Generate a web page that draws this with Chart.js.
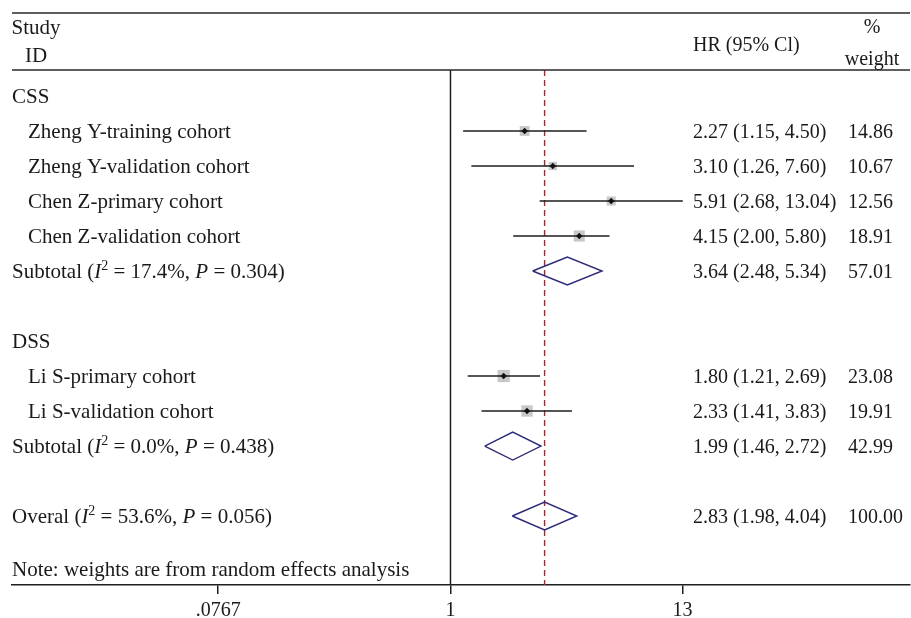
<!DOCTYPE html>
<html>
<head>
<meta charset="utf-8">
<script src="https://cdn.jsdelivr.net/npm/chart.js@4.4.0/dist/chart.umd.min.js"></script>
<style>
  html, body { margin: 0; padding: 0; background: #fff; }
  canvas { display: block; }
</style>
</head>
<body>
<canvas id="forest" width="911" height="618"></canvas>
<script>
// rows: 0 = first line under the header, one unit per text line
var groupNames = ['CSS', 'DSS'];
var groupRows = [0, 7];

var studies = ['Zheng Y-training cohort', 'Zheng Y-validation cohort', 'Chen Z-primary cohort',
  'Chen Z-validation cohort', 'Li S-primary cohort', 'Li S-validation cohort'];
var studyRows = [1, 2, 3, 4, 8, 9];
var hr = [2.27, 3.10, 5.91, 4.15, 1.80, 2.33];
var hrLow = [1.15, 1.26, 2.68, 2.00, 1.21, 1.41];
var hrHigh = [4.50, 7.60, 13.04, 5.80, 2.69, 3.83];
var weights = [14.86, 10.67, 12.56, 18.91, 23.08, 19.91];

var subRows = [5, 10];
var subHr = [3.64, 1.99];
var subLow = [2.48, 1.46];
var subHigh = [5.34, 2.72];
var subWeights = [57.01, 42.99];
var subI2 = ['17.4%', '0.0%'];
var subP = ['0.304', '0.438'];

var overallRow = 12;
var overallHr = 2.83;
var overallLow = 1.98;
var overallHigh = 4.04;
var overallWeight = 100.00;
var overallI2 = '53.6%';
var overallP = '0.056';

var noteRow = 13.5;
var noteText = 'Note: weights are from random effects analysis';

var tickValues = [0.0767, 1, 13];
var tickLabels = ['.0767', '1', '13'];

var family = '"Liberation Serif", "DejaVu Serif", serif';
var ink = '#1a1a1a';
var navy = '#2a2a78';

function fmt(v) { return v.toFixed(2); }
function ciText(e, l, h) { return fmt(e) + ' (' + fmt(l) + ', ' + fmt(h) + ')'; }

function drawRich(ctx, parts, x, y) {
  parts.forEach(function (p) {
    var style = p[1] || '';
    var size = style === 'sup' ? 14 : 21;
    ctx.font = (style === 'i' ? 'italic ' : '') + size + 'px ' + family;
    ctx.fillText(p[0], x, style === 'sup' ? y - 8 : y);
    x += ctx.measureText(p[0]).width;
  });
}
function hetParts(name, i2, p) {
  return [[name + ' ('], ['I', 'i'], ['2', 'sup'], [' = ' + i2 + ', '], ['P', 'i'], [' = ' + p + ')']];
}

function diamond(est, lo, hi, row) {
  return [{x: lo, y: row}, {x: est, y: row - 0.4}, {x: hi, y: row}, {x: est, y: row + 0.4}, {x: lo, y: row}];
}

var datasets = [];
// point estimates
datasets.push({
  data: hr.map(function (v, i) { return {x: v, y: studyRows[i]}; }),
  pointStyle: 'rectRot', pointRadius: 3.2, backgroundColor: '#111', borderWidth: 0
});
// confidence intervals
hr.forEach(function (v, i) {
  datasets.push({
    data: [{x: hrLow[i], y: studyRows[i]}, {x: hrHigh[i], y: studyRows[i]}],
    showLine: true, borderColor: '#1e1e1e', borderWidth: 1.5, pointRadius: 0
  });
});
// weight boxes
datasets.push({
  data: hr.map(function (v, i) { return {x: v, y: studyRows[i]}; }),
  pointStyle: 'rect', pointRadius: weights.map(function (w) { return 1.8 * Math.sqrt(w); }),
  backgroundColor: '#c8c8c8', borderWidth: 0
});
// pooled diamonds
subHr.forEach(function (v, i) {
  datasets.push({
    data: diamond(v, subLow[i], subHigh[i], subRows[i]),
    showLine: true, borderColor: navy, borderWidth: 1.4, pointRadius: 0, fill: false
  });
});
datasets.push({
  data: diamond(overallHr, overallLow, overallHigh, overallRow),
  showLine: true, borderColor: navy, borderWidth: 1.4, pointRadius: 0, fill: false
});

var forestText = {
  id: 'forestText',
  beforeDatasetsDraw: function (chart) {
    var ctx = chart.ctx, a = chart.chartArea, x = chart.scales.x;
    ctx.save();
    ctx.strokeStyle = '#1e1e1e';
    ctx.lineWidth = 1.5;
    var px = x.getPixelForValue(1);
    ctx.beginPath(); ctx.moveTo(px, a.top); ctx.lineTo(px, a.bottom); ctx.stroke();
    ctx.strokeStyle = '#a8282f';
    ctx.lineWidth = 1.4;
    ctx.setLineDash([6, 4]);
    px = x.getPixelForValue(overallHr);
    ctx.beginPath(); ctx.moveTo(px, a.top); ctx.lineTo(px, a.bottom); ctx.stroke();
    ctx.restore();
  },
  afterDraw: function (chart) {
    var ctx = chart.ctx, a = chart.chartArea, y = chart.scales.y;
    ctx.save();
    // header rules
    ctx.strokeStyle = '#2a2a2a';
    ctx.lineWidth = 1.5;
    ctx.beginPath();
    ctx.moveTo(a.left, 13); ctx.lineTo(a.right, 13);
    ctx.moveTo(a.left, a.top); ctx.lineTo(a.right, a.top);
    ctx.stroke();

    ctx.fillStyle = ink;
    ctx.textBaseline = 'alphabetic';
    ctx.textAlign = 'center';
    ctx.font = '21px ' + family;
    ctx.fillText('Study', 36, 34);
    ctx.fillText('ID', 36, 62);
    ctx.font = '20px ' + family;
    ctx.fillText('%', 872, 33);
    ctx.fillText('weight', 872, 65);
    ctx.textAlign = 'left';
    ctx.fillText('HR (95% Cl)', 693, 51);

    var base = function (row) { return y.getPixelForValue(row) + 7; };
    var label = '21px ' + family, num = '20px ' + family;
    ctx.font = label;
    groupNames.forEach(function (g, i) { ctx.fillText(g, 12, base(groupRows[i])); });
    studies.forEach(function (s, i) {
      ctx.font = label;
      ctx.fillText(s, 28, base(studyRows[i]));
      ctx.font = num;
      ctx.fillText(ciText(hr[i], hrLow[i], hrHigh[i]), 693, base(studyRows[i]));
      ctx.fillText(fmt(weights[i]), 848, base(studyRows[i]));
    });
    subHr.forEach(function (v, i) {
      drawRich(ctx, hetParts('Subtotal', subI2[i], subP[i]), 12, base(subRows[i]));
      ctx.font = num;
      ctx.fillText(ciText(v, subLow[i], subHigh[i]), 693, base(subRows[i]));
      ctx.fillText(fmt(subWeights[i]), 848, base(subRows[i]));
    });
    drawRich(ctx, hetParts('Overal', overallI2, overallP), 12, base(overallRow));
    ctx.font = num;
    ctx.fillText(ciText(overallHr, overallLow, overallHigh), 693, base(overallRow));
    ctx.fillText(fmt(overallWeight), 848, base(overallRow));
    ctx.font = label;
    ctx.fillText(noteText, 12, base(noteRow));
    ctx.restore();
  }
};

new Chart(document.getElementById('forest'), {
  type: 'scatter',
  data: {datasets: datasets},
  plugins: [forestText],
  options: {
    responsive: false,
    animation: false,
    devicePixelRatio: 1,
    layout: {autoPadding: false, padding: {left: 12, right: 1, top: 70, bottom: 0}},
    plugins: {legend: {display: false}, tooltip: {enabled: false}},
    scales: {
      x: {
        type: 'logarithmic',
        min: Math.pow(10, -2.105),
        max: Math.pow(10, 2.206),
        afterBuildTicks: function (s) { s.ticks = tickValues.map(function (v) { return {value: v}; }); },
        afterFit: function (s) { s.height = 33; s.paddingLeft = 0; s.paddingRight = 0; },
        ticks: {
          autoSkip: false, maxRotation: 0, padding: 5, color: ink,
          font: {family: family, size: 20},
          callback: function (v, i) { return tickLabels[i]; }
        },
        grid: {drawOnChartArea: false, tickLength: 9, color: '#1e1e1e', lineWidth: 1.5},
        border: {color: '#1e1e1e', width: 1.5}
      },
      y: {
        type: 'linear', reverse: true, display: false,
        min: -0.743, max: 13.971
      }
    }
  }
});
</script>
</body>
</html>
